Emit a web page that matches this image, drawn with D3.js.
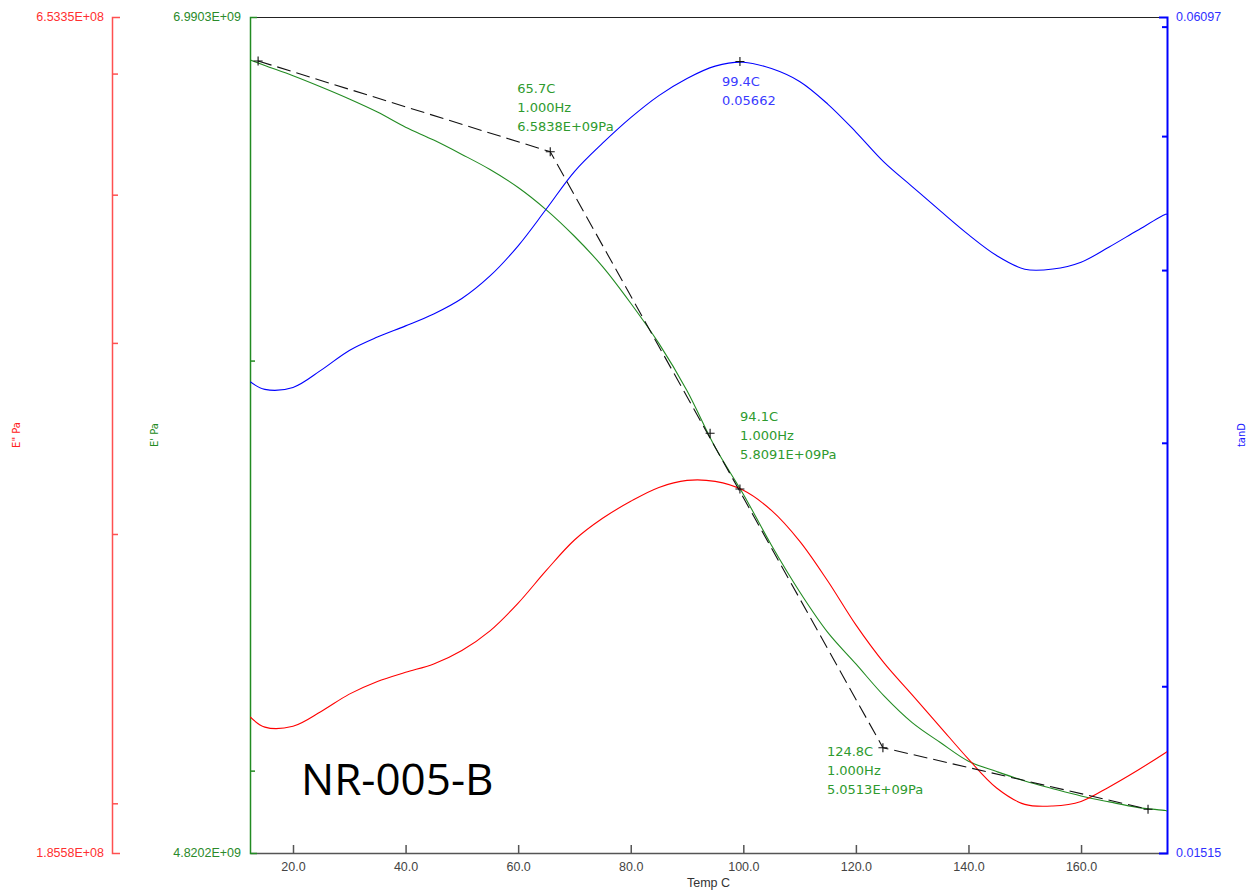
<!DOCTYPE html>
<html>
<head>
<meta charset="utf-8">
<script src="https://cdn.jsdelivr.net/npm/d3@7"></script>
<style>
  body { margin: 0; background: #fff; }
  svg { display: block; }
</style>
</head>
<body>
<svg id="chart"></svg>
<script>
// temperature grid (C) shared by all three traces
const temps = [12.4, 15, 20, 25, 30, 35, 40, 45, 50, 55, 60, 65, 70, 75, 80, 85, 90, 95, 100,
  105, 110, 115, 120, 125, 130, 135, 140, 145, 150, 155, 160, 165, 170, 175, 175.27];

// E' storage modulus (Pa)
const storageMod = [6.858e9, 6.841e9, 6.810e9, 6.776e9, 6.740e9, 6.701e9, 6.656e9, 6.618e9, 6.576e9,
  6.532e9, 6.480e9, 6.416e9, 6.341e9, 6.256e9, 6.155e9, 6.046e9, 5.920e9, 5.773e9, 5.654e9,
  5.527e9, 5.414e9, 5.317e9, 5.243e9, 5.169e9, 5.108e9, 5.063e9, 5.021e9, 4.998e9, 4.977e9,
  4.960e9, 4.944e9, 4.931e9, 4.919e9, 4.912e9, 4.911e9];

// E" loss modulus (Pa)
const lossMod = [2.2777e8, 2.2430e8, 2.2461e8, 2.2967e8, 2.3573e8, 2.4028e8, 2.4360e8, 2.4670e8, 2.5176e8,
  2.5930e8, 2.7035e8, 2.8399e8, 2.9729e8, 3.0716e8, 3.1513e8, 3.2179e8, 3.2520e8, 3.2471e8, 3.2039e8,
  3.1084e8, 2.9680e8, 2.7949e8, 2.6161e8, 2.4706e8, 2.3545e8, 2.2434e8, 2.1376e8, 2.0466e8, 1.9967e8,
  1.9919e8, 2.0057e8, 2.0500e8, 2.1013e8, 2.1583e8, 2.1616e8];

// tan delta
const tanD = [0.03321, 0.03279, 0.03290, 0.03386, 0.03499, 0.03578, 0.03645, 0.03718, 0.03815,
  0.03961, 0.04165, 0.04428, 0.04713, 0.04941, 0.05156, 0.05349, 0.05504, 0.05618, 0.05655,
  0.05595, 0.05476, 0.05274, 0.05034, 0.04788, 0.04597, 0.04414, 0.04243, 0.04098, 0.04006,
  0.04007, 0.04053, 0.04157, 0.04273, 0.04389, 0.04392];

// onset tangent construction on E'
const onsetTemps = [13.8, 65.7, 124.8, 171.9];
const onsetMod = [6.855e9, 6.5838e9, 5.0513e9, 4.915e9];
const markTemps = [13.8, 65.7, 94.1, 99.4, 124.8, 171.9];
const markMod = [6.855e9, 6.5838e9, 5.8091e9, 5.667e9, 5.0513e9, 4.915e9];
const peakTemp = [99.4];
const peakTan = [0.05662];

// annotation texts
const note1 = ["65.7C", "1.000Hz", "6.5838E+09Pa"];
const note2 = ["94.1C", "1.000Hz", "5.8091E+09Pa"];
const note3 = ["124.8C", "1.000Hz", "5.0513E+09Pa"];
const notePeak = ["99.4C", "0.05662"];

// axis ticks / labels
const xTicks = [20, 40, 60, 80, 100, 120, 140, 160];
const lossTicks = [2e8, 3e8, 4e8, 5e8, 6e8];
const storageTicks = [5e9, 6e9];
const tanTicks = [0.02, 0.03, 0.04, 0.05, 0.06];
const lossEnds = ["6.5335E+08", "1.8558E+08"];
const storageEnds = ["6.9903E+09", "4.8202E+09"];
const tanEnds = ["0.06097", "0.01515"];
const sampleName = "NR-005-B";

const W = 1254, H = 896;
const plot = { left: 250, right: 1167, top: 17, bottom: 853 };
const GREEN = "#228b22";
const tickFont = "'Liberation Sans', Arial, sans-serif";
const noteFont = "'DejaVu Sans', Verdana, sans-serif";

const svg = d3.select("#chart").attr("width", W).attr("height", H);

const x = d3.scaleLinear().domain([12.36, 175.27]).range([plot.left, plot.right]);
const yStore = d3.scaleLog().domain([4.8202e9, 6.9903e9]).range([plot.bottom, plot.top]);
const yLoss = d3.scaleLog().domain([1.8558e8, 6.5335e8]).range([plot.bottom, plot.top]);
const yTan = d3.scaleLog().domain([0.01515, 0.06097]).range([plot.bottom, plot.top]);

// frame top
svg.append("line")
  .attr("x1", plot.left).attr("x2", plot.right)
  .attr("y1", plot.top + 0.5).attr("y2", plot.top + 0.5)
  .attr("stroke", "#222").attr("stroke-width", 1);

// x axis
const xAxisG = svg.append("g")
  .attr("transform", `translate(0,${plot.bottom})`)
  .call(d3.axisBottom(x).tickValues(xTicks).tickSize(-8).tickSizeOuter(0).tickPadding(9)
    .tickFormat(d => d.toFixed(1)))
xAxisG.selectAll("path,line").attr("stroke", "#555").attr("stroke-width", 1.5);
xAxisG.selectAll("text").attr("fill", "#444").attr("font-family", tickFont).attr("font-size", 12.5);

svg.append("text")
  .attr("x", (plot.left + plot.right) / 2).attr("y", 887)
  .attr("text-anchor", "middle")
  .attr("font-family", tickFont).attr("font-size", 12.5).attr("fill", "#333")
  .text("Temp C");

// E" axis (far left)
const lossG = svg.append("g")
  .attr("transform", "translate(112,0)")
  .call(d3.axisRight(yLoss).tickValues(lossTicks).tickSize(6).tickSizeOuter(8).tickFormat(""));
lossG.selectAll("path,line").attr("stroke", "#ff5050").attr("stroke-width", 1.5);

// E' axis (plot left)
const storeG = svg.append("g")
  .attr("transform", `translate(${plot.left},0)`)
  .call(d3.axisRight(yStore).tickValues(storageTicks).tickSize(5).tickSizeOuter(7).tickFormat(""));
storeG.selectAll("path,line").attr("stroke", GREEN).attr("stroke-width", 1.5);

// tanD axis (plot right)
const tanG = svg.append("g")
  .attr("transform", `translate(${plot.right},0)`)
  .call(d3.axisLeft(yTan).tickValues(tanTicks).tickSize(5).tickSizeOuter(8).tickFormat(""));
tanG.selectAll("path,line").attr("stroke", "#0000ff").attr("stroke-width", 2);

// end labels
function endLabels(vals, xPos, anchor, color) {
  svg.selectAll(null).data(vals).join("text")
    .attr("x", xPos)
    .attr("y", (d, i) => i === 0 ? plot.top : plot.bottom)
    .attr("dy", "0.35em")
    .attr("text-anchor", anchor)
    .attr("font-family", tickFont).attr("font-size", 12.5)
    .attr("fill", color)
    .text(d => d);
}
endLabels(lossEnds, 104, "end", "#ff3030");
endLabels(storageEnds, 241, "end", "#2a8a2a");
endLabels(tanEnds, 1176, "start", "#3030ff");

// rotated axis titles
function axisTitle(txt, cx, color) {
  svg.append("text")
    .attr("transform", `translate(${cx},${(plot.top + plot.bottom) / 2}) rotate(-90)`)
    .attr("text-anchor", "middle").attr("dy", "0.35em")
    .attr("font-family", noteFont).attr("font-size", 10)
    .attr("fill", color)
    .text(txt);
}
axisTitle('E" Pa', 16, "#ff2020");
axisTitle("E' Pa", 154, GREEN);
axisTitle("tanD", 1241, "#2020ff");

// clip for traces
svg.append("clipPath").attr("id", "plotClip").append("rect")
  .attr("x", plot.left).attr("y", plot.top)
  .attr("width", plot.right - plot.left).attr("height", plot.bottom - plot.top);

const traces = svg.append("g").attr("clip-path", "url(#plotClip)");

function trace(values, yScale, color) {
  const line = d3.line()
    .x((d, i) => x(temps[i]))
    .y(d => yScale(d))
    .curve(d3.curveCatmullRom.alpha(0.5));
  traces.append("path")
    .datum(values)
    .attr("d", line)
    .attr("fill", "none")
    .attr("stroke", color)
    .attr("stroke-width", 1.1);
}
trace(storageMod, yStore, GREEN);
trace(tanD, yTan, "#0000ff");
trace(lossMod, yLoss, "#ff0000");

// onset tangent dashed lines
const onsetLine = d3.line()
  .x((d, i) => x(onsetTemps[i]))
  .y(d => yStore(d));
traces.append("path")
  .datum(onsetMod)
  .attr("d", onsetLine)
  .attr("fill", "none")
  .attr("stroke", "#111")
  .attr("stroke-width", 1.1)
  .attr("stroke-dasharray", "14,6");

// + markers
const cross = "M-4.5,0H4.5M0,-4.5V4.5";
svg.selectAll(null).data(markMod).join("path")
  .attr("transform", (d, i) => `translate(${x(markTemps[i])},${yStore(d)})`)
  .attr("d", cross).attr("stroke", "#111").attr("stroke-width", 1.1);
svg.selectAll(null).data(peakTan).join("path")
  .attr("transform", (d, i) => `translate(${x(peakTemp[i])},${yTan(d)})`)
  .attr("d", cross).attr("stroke", "#111").attr("stroke-width", 1.1);

// annotations
function note(lines, px, py, dx, dy, color) {
  const t = svg.append("text")
    .attr("font-family", noteFont).attr("font-size", 13)
    .attr("fill", color);
  lines.forEach((s, i) => {
    t.append("tspan").attr("x", px + dx).attr("y", py + dy + i * 19).text(s);
  });
}
note(note1, x(65.7), yStore(6.5838e9), -33, -59, "#2e9a2e");
note(note2, x(94.1), yStore(5.8091e9), 30, -12, "#2e9a2e");
note(note3, x(124.8), yStore(5.0513e9), -56, 8, "#2e9a2e");
note(notePeak, x(peakTemp[0]), yTan(peakTan[0]), -18, 25, "#3a3aff");

// sample name
svg.append("text")
  .attr("x", 301).attr("y", 795)
  .attr("font-family", "'Open Sans', sans-serif").attr("font-size", 44)
  .attr("fill", "#000")
  .text(sampleName);
</script>
</body>
</html>
